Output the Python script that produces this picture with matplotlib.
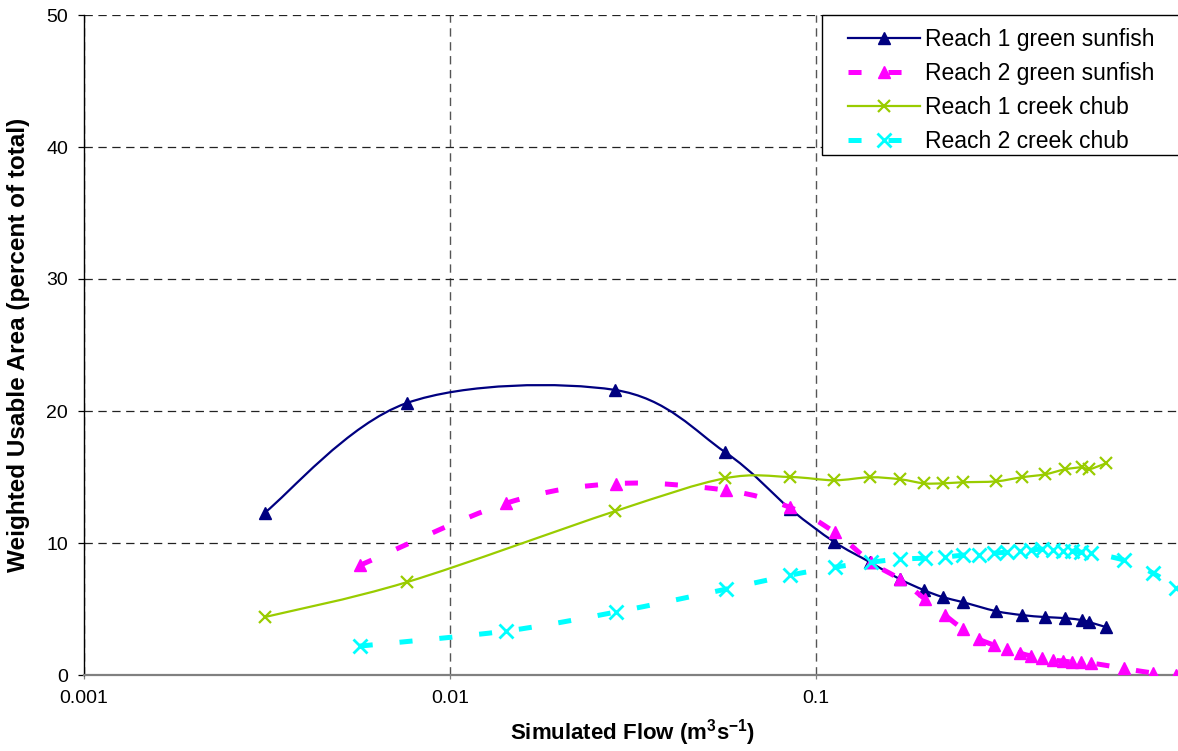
import numpy as np
import matplotlib.pyplot as plt
from matplotlib.path import Path
from matplotlib.patches import PathPatch, Rectangle
from matplotlib.lines import Line2D
from matplotlib.ticker import FixedLocator, FixedFormatter, NullLocator

plt.rcParams['font.family'] = ['Liberation Sans', 'DejaVu Sans']
plt.rcParams['mathtext.fontset'] = 'custom'
plt.rcParams['mathtext.rm'] = 'Liberation Sans'
plt.rcParams['mathtext.bf'] = 'Liberation Sans:bold'
plt.rcParams['lines.scale_dashes'] = False

# reach 1 (both species share the flows)
flow_r1 = [0.00312, 0.00762, 0.0282, 0.0564, 0.0850, 0.1121, 0.1406, 0.1698, 0.1975,
           0.2226, 0.2525, 0.3108, 0.3661, 0.4231, 0.4800, 0.5342, 0.5583, 0.6214]
sunfish_r1 = [12.3, 20.6, 21.6, 16.9, 12.6, 10.1, 8.55, 7.26, 6.43,
              5.90, 5.52, 4.84, 4.54, 4.39, 4.31, 4.16, 4.01, 3.63]
chub_r1 = [4.39, 7.03, 12.4, 14.9, 15.0, 14.75, 14.98, 14.83, 14.52,
           14.52, 14.60, 14.67, 14.98, 15.2, 15.58, 15.73, 15.58, 16.04]

# reach 2
flow_r2 = [0.00567, 0.01421, 0.02841, 0.0568, 0.0850, 0.1128, 0.1415, 0.1698, 0.1988,
           0.2254, 0.2525, 0.2793, 0.3069, 0.3331, 0.3614, 0.3874, 0.4153, 0.4449,
           0.4740, 0.5017, 0.5307, 0.5654, 0.696, 0.835, 0.965]
sunfish_r2 = [8.3, 13.0, 14.5, 14.0, 12.7, 10.8, 8.55, 7.26, 5.75,
              4.54, 3.48, 2.72, 2.27, 1.97, 1.66, 1.44, 1.29, 1.13,
              1.06, 0.98, 0.95, 0.91, 0.5, 0.15, 0.0]
chub_r2 = [2.19, 3.33, 4.77, 6.5, 7.56, 8.17, 8.55, 8.77, 8.85,
           8.93, 9.08, 9.08, 9.23, 9.30, 9.38, 9.46, 9.53, 9.46,
           9.38, 9.38, 9.30, 9.23, 8.7, 7.72, 6.6]

labels = ['Reach 1 green sunfish', 'Reach 2 green sunfish',
          'Reach 1 creek chub', 'Reach 2 creek chub']
x_ticks = [0.001, 0.01, 0.1, 1]
x_tick_labels = ['0.001', '0.01', '0.1', '']   # "1" falls off the right edge
y_ticks = [0, 10, 20, 30, 40, 50]


def smooth_path(x, y):
    # excel style smoothed line: cubic bezier through the points (log x space)
    pts = np.column_stack([np.log10(x), y])
    n = len(pts)
    verts = [pts[0]]
    codes = [Path.MOVETO]
    for i in range(n - 1):
        p0 = pts[max(i - 1, 0)]
        p1 = pts[i]
        p2 = pts[i + 1]
        p3 = pts[min(i + 2, n - 1)]
        verts += [p1 + (p2 - p0) / 6, p2 - (p3 - p1) / 6, p2]
        codes += [Path.CURVE4] * 3
    v = np.array(verts)
    v[:, 0] = 10 ** v[:, 0]
    return Path(v, codes)


W, H = 1178, 751
fig = plt.figure(figsize=(W / 100, H / 100), dpi=100)
ax = fig.add_axes([84 / W, 76 / H, 1097.6 / W, 660 / H])
ax.set_xscale('log')
ax.set_xlim(0.001, 1)
ax.set_ylim(0, 50)

dash = (0, (9.4, 19.4))
series = [
    (flow_r1, sunfish_r1, '#000080', 1.6, '-', '^', 9, 1.0),
    (flow_r2, sunfish_r2, '#FF00FF', 3.6, dash, '^', 9, 1.0),
    (flow_r1, chub_r1, '#99CC00', 1.6, '-', 'x', 9, 1.6),
    (flow_r2, chub_r2, '#00FFFF', 3.6, dash, 'x', 10, 2.0),
]
handles = []
for k, (fx, fy, col, lw, ls, mk, ms, mew) in enumerate(series):
    z = 3 + k
    ax.add_patch(PathPatch(smooth_path(fx, fy), fill=False, edgecolor=col,
                           lw=lw, linestyle=ls, capstyle='butt', zorder=z))
    ax.plot(fx, fy, linestyle='none', marker=mk, ms=ms, color=col,
            mec=col, mew=mew, zorder=z)
    handles.append(Line2D([], [], color=col, lw=lw, linestyle=ls, marker=mk,
                          ms=ms, mew=mew, dash_capstyle='butt'))

ax.xaxis.set_major_locator(FixedLocator(x_ticks))
ax.xaxis.set_major_formatter(FixedFormatter(x_tick_labels))
ax.xaxis.set_minor_locator(NullLocator())
ax.set_yticks(y_ticks)

ax.xaxis.grid(True, color='#555555', linestyle=(0, (6, 4)), lw=1.0)
ax.yaxis.grid(True, color='#222222', linestyle=(0, (6, 4)), lw=0.9)
ax.set_axisbelow(True)

for s in ['top', 'right']:
    ax.spines[s].set_visible(False)
ax.spines['left'].set_color('black')
ax.spines['left'].set_linewidth(1.0)
ax.spines['bottom'].set_color('#808080')
ax.spines['bottom'].set_linewidth(1.6)

ax.tick_params(axis='y', direction='out', length=4.5, width=0.9, pad=7,
               labelsize=14, colors='black')
ax.tick_params(axis='x', direction='out', length=3, width=0.9, pad=8,
               labelsize=14, color='#808080', labelcolor='black')

ax.set_xlabel(r'Simulated Flow (m$^{\mathbf{3}}$s$^{\mathbf{-1}}$)', fontsize=16,
              fontweight='bold')
ax.xaxis.set_label_coords(0.5, -0.064)
ax.set_ylabel('Weighted Usable Area (percent of total)', fontsize=17.5,
              fontweight='bold')
ax.yaxis.set_label_coords(-0.049, 0.5)

# legend box (right side runs off the figure)
fig.patches.append(Rectangle((822 / W, (H - 155) / H), 380 / W, 140 / H,
                             transform=fig.transFigure, fill=True,
                             facecolor='white', edgecolor='black', lw=1.0,
                             zorder=10))
leg = fig.legend(handles, labels, loc='upper left',
                 bbox_to_anchor=(837 / W, (H - 17) / H),
                 bbox_transform=fig.transFigure, frameon=False,
                 fontsize=16.5, borderpad=0.5, borderaxespad=0,
                 handlelength=3.1, handletextpad=0.25, labelspacing=0.47)
leg.set_zorder(11)

fig.savefig('out.png', dpi=100)
